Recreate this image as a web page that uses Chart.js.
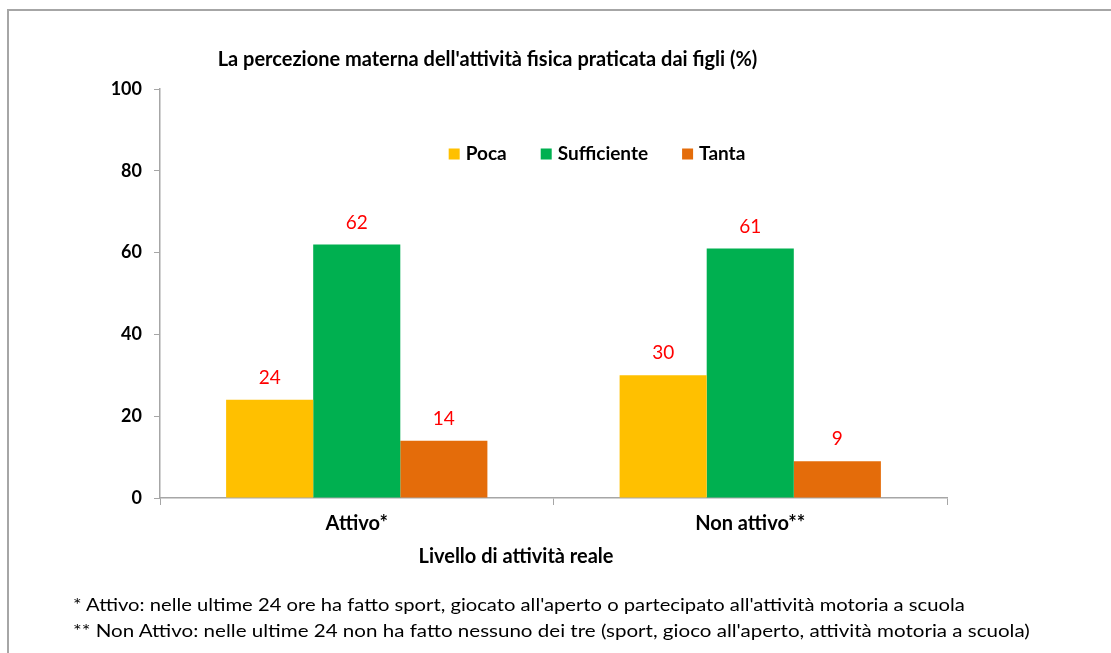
<!DOCTYPE html>
<html>
<head>
    <title>Percezione materna attività fisica</title>
    <style>
        html, body {
            margin: 0;
            padding: 0;
            background: #fff;
        }
        .wrap {
            position: relative;
            width: 1111px;
            height: 653px;
            overflow: hidden;
            font-family: Lato, sans-serif;
        }
        .frame {
            position: absolute;
            left: 7px;
            top: 9px;
            width: 1200px;
            height: 700px;
            border-left: 2px solid #a6a6a6;
            border-top: 2px solid #a6a6a6;
        }
        canvas {
            position: absolute;
            left: 0;
            top: 0;
        }
        .note {
            position: absolute;
            left: 73px;
            font-size: 18px;
            color: #000;
            white-space: nowrap;
            transform-origin: 0 50%;
        }
    </style>
    <script src="https://cdn.jsdelivr.net/npm/chart.js"></script>
</head>
<body>
    <div class="wrap">
        <div class="frame"></div>
        <canvas id="chart" width="1111" height="653"></canvas>
        <div class="note" id="note1" style="top:593px">* Attivo: nelle ultime 24 ore ha fatto sport, giocato all'aperto o partecipato all'attività motoria a scuola</div>
        <div class="note" id="note2" style="top:619px">** Non Attivo: nelle ultime 24 non ha fatto nessuno dei tre (sport, gioco all'aperto, attività motoria a scuola)</div>
    </div>

    <script>
        const categories = ['Attivo*', 'Non attivo**'];
        const seriesNames = ['Poca', 'Sufficiente', 'Tanta'];
        const poca = [24, 30];
        const sufficiente = [62, 61];
        const tanta = [14, 9];
        const yTicks = [0, 20, 40, 60, 80, 100];
        const xTitle = 'Livello di attività reale';
        const colors = ['#FFC000', '#00B050', '#E46C0A'];

        // squeeze the footnotes to the widths seen in the picture
        function fitNote(id, w) {
            const el = document.getElementById(id);
            el.style.transform = 'scaleX(' + (w / el.offsetWidth) + ')';
        }
        fitNote('note1', 892);
        fitNote('note2', 957);

        const labelsPlugin = {
            id: 'barLabels',
            afterDatasetsDraw(chart) {
                const ctx = chart.ctx;
                ctx.save();
                ctx.font = '19px Lato';
                ctx.fillStyle = '#FF0000';
                ctx.textAlign = 'center';
                ctx.textBaseline = 'middle';
                chart.data.datasets.forEach((ds, i) => {
                    chart.getDatasetMeta(i).data.forEach((bar, j) => {
                        ctx.fillText(ds.data[j], bar.x, bar.y - 22);
                    });
                });
                ctx.restore();
            }
        };

        // legend sits inside the plot, plus the axis title which is off-centre
        const legendPlugin = {
            id: 'innerLegend',
            afterDraw(chart) {
                const ctx = chart.ctx;
                ctx.save();
                ctx.font = 'bold 19px Lato';
                ctx.textBaseline = 'middle';
                ctx.fillStyle = '#000';
                const box = 11, gapText = 6, gapItem = 34, y = 154;
                let total = 0;
                seriesNames.forEach((n, i) => {
                    total += box + gapText + ctx.measureText(n).width;
                    if (i < seriesNames.length - 1) total += gapItem;
                });
                let x = 597 - total / 2;
                seriesNames.forEach((n, i) => {
                    ctx.fillStyle = colors[i];
                    ctx.fillRect(x, y - box / 2, box, box);
                    x += box + gapText;
                    ctx.fillStyle = '#000';
                    ctx.fillText(n, x, y);
                    x += ctx.measureText(n).width + gapItem;
                });

                ctx.font = 'bold 20px Lato';
                ctx.textAlign = 'center';
                ctx.fillText(xTitle, 516, 557);
                ctx.restore();
            }
        };

        new Chart(document.getElementById('chart'), {
            type: 'bar',
            data: {
                labels: categories,
                datasets: [
                    { label: seriesNames[0], data: poca, backgroundColor: colors[0] },
                    { label: seriesNames[1], data: sufficiente, backgroundColor: colors[1] },
                    { label: seriesNames[2], data: tanta, backgroundColor: colors[2] }
                ]
            },
            options: {
                responsive: false,
                animation: false,
                devicePixelRatio: 1,
                layout: {
                    padding: { left: 28, right: 164, top: 10, bottom: 110 }
                },
                datasets: {
                    bar: { categoryPercentage: 0.664, barPercentage: 1 }
                },
                plugins: {
                    legend: { display: false },
                    tooltip: { enabled: false },
                    title: {
                        display: true,
                        text: "La percezione materna dell'attività fisica praticata dai figli (%)",
                        color: '#000',
                        font: { family: 'Lato', size: 20, weight: 'bold' },
                        padding: { top: 38, bottom: 17 }
                    }
                },
                scales: {
                    x: {
                        grid: {
                            offset: true,
                            drawOnChartArea: false,
                            tickLength: 7,
                            color: '#a6a6a6'
                        },
                        border: { color: '#a6a6a6', width: 1.5 },
                        ticks: {
                            color: '#000',
                            padding: 7,
                            font: { family: 'Lato', size: 20, weight: 'bold' }
                        }
                    },
                    y: {
                        min: 0,
                        max: 100,
                        afterFit(scale) { scale.width = 132; },
                        afterBuildTicks(scale) {
                            scale.ticks = yTicks.map(v => ({ value: v }));
                        },
                        grid: {
                            drawOnChartArea: false,
                            tickLength: 6,
                            color: '#a6a6a6'
                        },
                        border: { color: '#a6a6a6', width: 1.5 },
                        ticks: {
                            color: '#000',
                            padding: 12,
                            font: { family: 'Lato', size: 18, weight: 'bold' }
                        }
                    }
                }
            },
            plugins: [labelsPlugin, legendPlugin]
        });
    </script>
</body>
</html>
